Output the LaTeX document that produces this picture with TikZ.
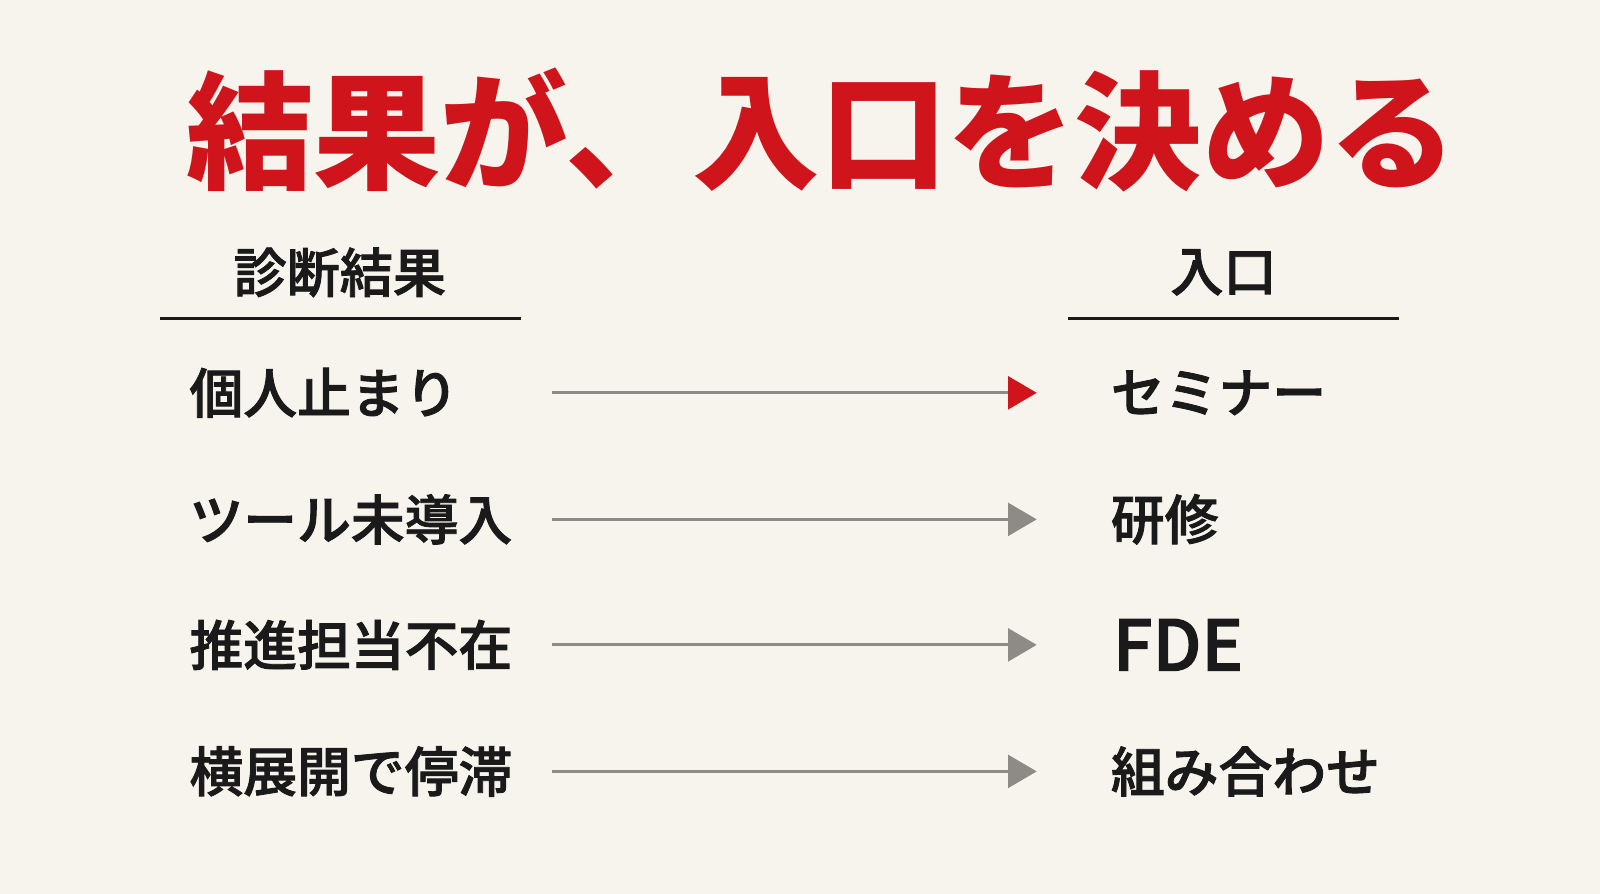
\documentclass[tikz,border=0pt]{standalone}
\usepackage{fontspec}
\usetikzlibrary{arrows.meta}
\newfontfamily\cjk{Noto Sans CJK JP}
\newfontfamily\cjkmed[FakeBold=1.6]{Noto Sans CJK JP Medium}
\definecolor{bgcream}{HTML}{F7F4EE}
\definecolor{titlered}{HTML}{CF141B}
\definecolor{linegray}{HTML}{8E8A85}
\definecolor{inkblack}{HTML}{1A1A1A}

\begin{document}
\begin{tikzpicture}
		\tikzset{
			lbl/.style={anchor=west, inner sep=0pt, text=inkblack, font=\cjkmed\fontsize{15}{18}\selectfont},
			hd/.style={inner sep=0pt, text=inkblack, font=\cjkmed\fontsize{14.8}{17}\selectfont},
			arr/.style={draw=linegray, line width=0.3mm, -{Triangle[length=2.8mm, width=3.2mm]}},
			rule/.style={draw=inkblack, line width=0.3mm}
		};

		\fill[bgcream] (0, 0) rectangle (15.68, 8.76);

		\node[inner sep=0pt, text=titlered, font=\cjk\bfseries\fontsize{35.5}{40}\selectfont] (title) at (8.05, 7.49) {結果が、入口を決める};

		\node[hd] (diag) at (3.33, 6.09) {診断結果};
		\node[hd] (entry) at (11.99, 6.09) {入口};
		\coordinate (dl) at (1.57, 5.64);
		\coordinate (dr) at (5.11, 5.64);
		\coordinate (el) at (10.47, 5.64);
		\coordinate (er) at (13.71, 5.64);
		\draw[rule] (dl) to (dr);
		\draw[rule] (el) to (er);

		\node[lbl, text width=3.55cm] (l1) at (1.85, 4.91) {個人止まり};
		\node[lbl, text width=3.55cm] (l2) at (1.85, 3.67) {ツール未導入};
		\node[lbl, text width=3.55cm] (l3) at (1.85, 2.44) {推進担当不在};
		\node[lbl, text width=3.55cm] (l4) at (1.85, 1.20) {横展開で停滞};

		\node[lbl] (r1) at (10.88, 4.91) {セミナー};
		\node[lbl] (r2) at (10.88, 3.67) {研修};
		\node[lbl, font=\cjkmed\fontsize{19.5}{21}\selectfont] (r3) at (10.90, 2.44) {FDE};
		\node[lbl] (r4) at (10.88, 1.20) {組み合わせ};

		\draw[arr, -{Triangle[length=2.8mm, width=3.2mm, color=titlered]}] (l1.east) to ([xshift=-7.2mm]r1.west);
		\draw[arr] (l2.east) to ([xshift=-7.2mm]r2.west);
		\draw[arr] (l3.east) to ([xshift=-7.4mm]r3.west);
		\draw[arr] (l4.east) to ([xshift=-7.2mm]r4.west);

	\end{tikzpicture}
\end{document}
